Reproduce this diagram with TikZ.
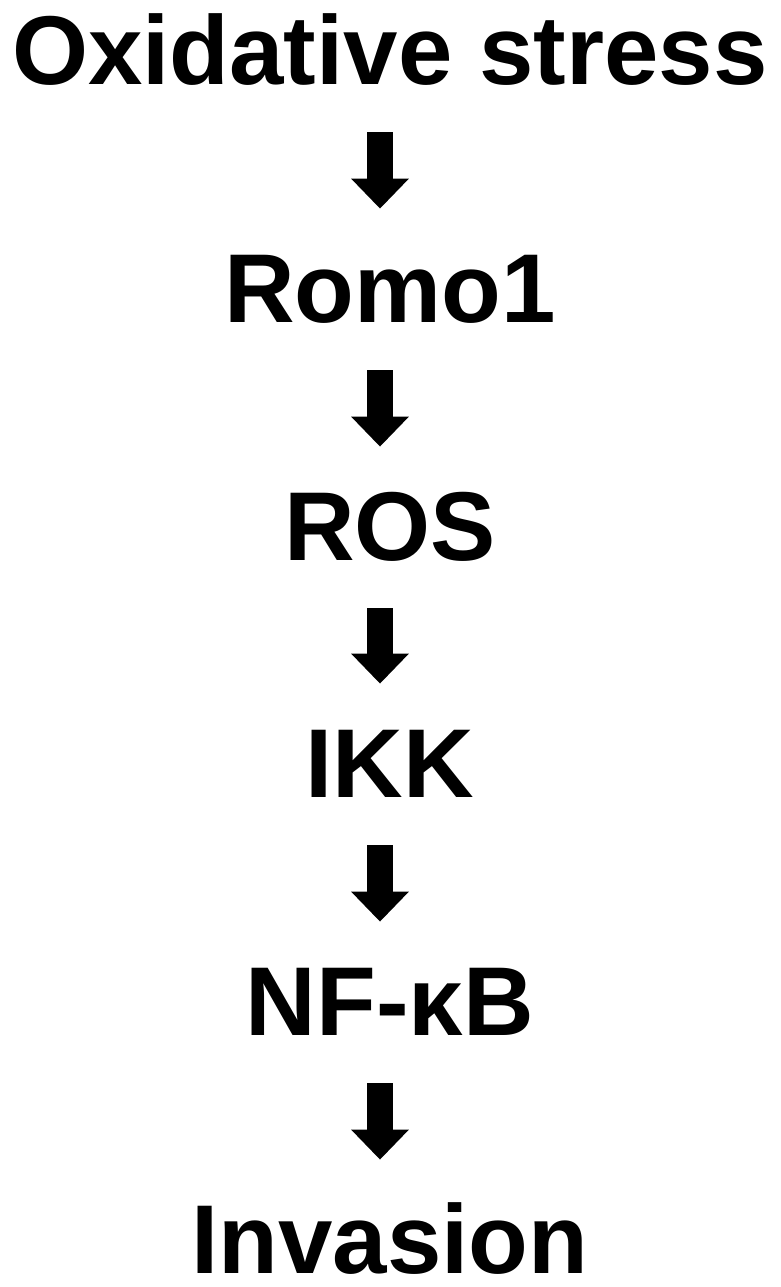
\documentclass[tikz,border=0pt]{standalone}
\usepackage{fontspec}
\setmainfont{Liberation Sans}
\usepackage{tikz}
\usetikzlibrary{arrows.meta}

\begin{document}
\begin{tikzpicture}[
  x=0.5pt, y=0.5pt,
  stage/.style={
    anchor=base,
    inner sep=0pt,
    text height=35pt,
    text depth=0pt,
    font=\fontsize{48.9pt}{52pt}\selectfont\bfseries
  },
  fatarrow/.style={
    -{Triangle[width=28pt,length=15pt]},
    line width=13pt,
    draw=black,
    shorten <=24pt,
    shorten >=21.5pt
  }
]
\useasboundingbox (0,0) rectangle (781,-1287);

% Pathway steps
\node[stage] (ox)  at (390,  -84) {Oxidative stress};
\node[stage] (rom) at (390, -322) {Romo1};
\node[stage] (ros) at (390, -560) {ROS};
\node[stage] (ikk) at (390, -797) {IKK};
\node[stage] (nfk) at (390,-1035) {NF-κB};
\node[stage] (inv) at (390,-1273) {Invasion};

% Arrows
\draw[fatarrow] ([xshift=-5pt]ox.south)  -- ([xshift=-5pt]rom.north);
\draw[fatarrow] ([xshift=-5pt]rom.south) -- ([xshift=-5pt]ros.north);
\draw[fatarrow] ([xshift=-5pt]ros.south) -- ([xshift=-5pt]ikk.north);
\draw[fatarrow] ([xshift=-5pt]ikk.south) -- ([xshift=-5pt]nfk.north);
\draw[fatarrow] ([xshift=-5pt]nfk.south) -- ([xshift=-5pt]inv.north);

\end{tikzpicture}
\end{document}
